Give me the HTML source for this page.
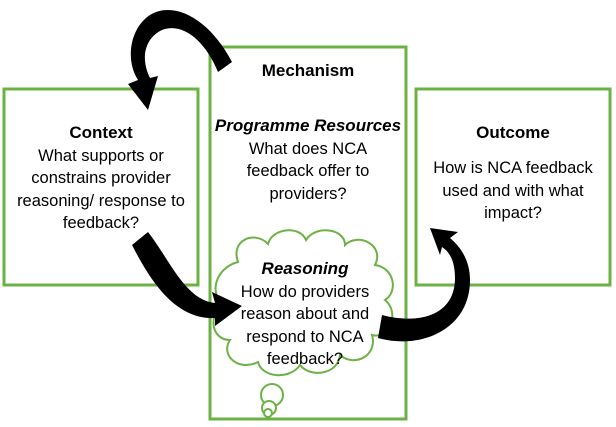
<!DOCTYPE html>
<html><head><style>
body{margin:0;width:616px;height:427px;background:#fff;position:relative;overflow:hidden;font-family:"Liberation Sans",sans-serif;color:#000}
.t{position:absolute;text-align:center;font-size:16.5px;line-height:22.5px}
b{font-size:17px}
</style></head><body>
<svg width="616" height="427" style="position:absolute;left:0;top:0">
<g fill="#fff" stroke="#6cb143" stroke-width="3">
<rect x="4" y="89" width="194" height="196"/>
<rect x="210" y="47" width="196" height="372"/>
<rect x="416" y="89" width="194" height="196"/>
</g>
<g fill="#fff" stroke="#6cb143" stroke-width="2">
<path d="M238,262 C230,240 255,230 268,244 C272,228 300,225 306,240 C315,225 345,228 345,245 C358,232 385,245 375,265 C395,268 398,292 385,300 C400,312 390,340 372,335 C378,355 355,368 340,355 C338,375 310,378 300,365 C290,380 262,378 258,362 C238,372 220,355 230,340 C210,340 208,312 225,305 C208,295 215,268 238,262 Z"/>
<circle cx="272" cy="395" r="11"/>
<circle cx="269" cy="408" r="7"/>
<circle cx="268" cy="413" r="4"/>
</g>
<g fill="#000">
<path d="M232,62 C210,20 175,0 150,15 C130,28 125,60 138,80 L128,84 L148,110 L158,76 L150,78 C140,58 145,38 162,30 C182,22 205,40 218,72 Z"/>
<path d="M148,232 C170,260 185,300 215,303 L212,292 L242,306 L215,326 L215,318 C175,320 150,280 132,245 Z"/>
<path d="M382,315 C420,325 455,315 455,278 C455,262 450,252 442,247 L440,255 L430,228 L458,232 L450,238 C462,248 470,262 470,280 C470,330 420,350 378,338 Z"/>
</g>
</svg>
<div class="t" style="left:4px;top:122px;width:194px"><b>Context</b><br>What supports or<br>constrains provider<br>reasoning/ response to<br>feedback?</div>
<div class="t" style="left:210px;top:60px;width:196px"><b>Mechanism</b></div>
<div class="t" style="left:210px;top:115px;width:196px"><b><i>Programme Resources</i></b><br>What does NCA<br>feedback offer to<br>providers?</div>
<div class="t" style="left:416px;top:122px;width:194px"><b>Outcome</b></div>
<div class="t" style="left:416px;top:157px;width:194px">How is NCA feedback<br>used and with what<br>impact?</div>
<div class="t" style="left:215px;top:258px;width:180px"><b><i>Reasoning</i></b><br>How do providers<br>reason about and<br>respond to NCA<br>feedback?</div>
</body></html>
